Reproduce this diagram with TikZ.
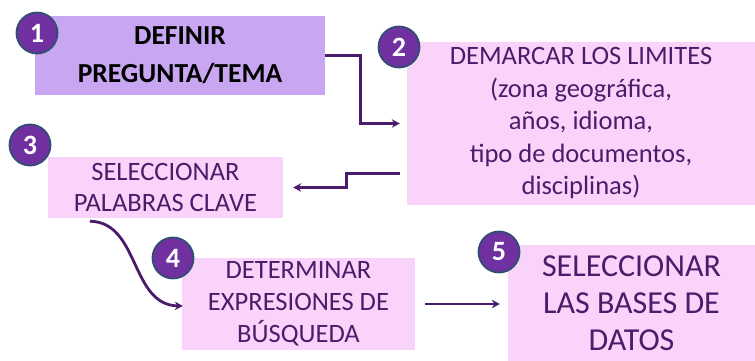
\documentclass[tikz,border=0pt]{standalone}
\usepackage{fontspec}
\setmainfont{Carlito}
\usetikzlibrary{arrows.meta,calc}
\definecolor{lav}{HTML}{C8A6F1}
\definecolor{pinkbox}{HTML}{FAD3FA}
\definecolor{txtpurple}{HTML}{4A1D6A}
\definecolor{connc}{HTML}{4B1B6B}
\definecolor{circfill}{HTML}{7030A0}
\definecolor{circedge}{HTML}{2F4E72}
\tikzset{
  box/.style={rectangle, inner sep=0pt, align=center, text=txtpurple, fill=pinkbox},
  numc/.style={circle, fill=circfill, draw=circedge, line width=1.8pt, minimum size=41pt, inner sep=0pt,
    text=white, font=\bfseries\fontsize{28}{28}\selectfont},
  conn/.style={draw=connc, line width=2.8pt, -{Stealth[length=8pt,width=8.5pt]}},
}
\begin{document}
\begin{tikzpicture}[x=1pt,y=-1pt]
\useasboundingbox (0,0) rectangle (755,361);
\node[box, fill=lav, text=black, minimum width=290pt, minimum height=79pt,
  font=\bfseries\fontsize{27.5}{38}\selectfont] (b1) at (180,55.5) {DEFINIR\\PREGUNTA/TEMA};
\node[box, minimum width=348pt, minimum height=163pt,
  font=\fontsize{26.5}{32.5}\selectfont] (b2) at (581,123.5)
  {DEMARCAR LOS LIMITES\\(zona geográfica,\\años, idioma,\\tipo de documentos,\\disciplinas)};
\node[box, minimum width=235pt, minimum height=61pt,
  font=\fontsize{26.5}{31}\selectfont] (b3) at (165.5,187.5) {SELECCIONAR\\PALABRAS CLAVE};
\node[box, minimum width=233pt, minimum height=92pt,
  font=\fontsize{26.5}{32}\selectfont] (b4) at (298.5,304) {DETERMINAR\\EXPRESIONES DE\\BÚSQUEDA};
\node[box, minimum width=247pt, minimum height=116pt,
  font=\fontsize{32}{37}\selectfont] (b5) at (631.5,303) {SELECCIONAR\\LAS BASES DE\\DATOS};

\node[numc] (n1) at (37,33) {1};
\node[numc] (n2) at (399,47) {2};
\node[numc] (n3) at (30,145) {3};
\node[numc] (n4) at (173,258) {4};
\node[numc] (n5) at (499,252) {5};

\draw[conn] (b1.east) -- ++(35,0) |- ([xshift=-7pt]b2.west);
\draw[conn] ([xshift=-7pt,yshift=32pt]b2.south west) -- ++(-53,0) |- ([xshift=10pt]b3.east);
\draw[conn] ([xshift=42pt,yshift=-3pt]b3.south west) .. controls (140,222) and (130,305) .. ([xshift=1pt,yshift=-2pt]b4.west);
\draw[conn] ([xshift=10pt]b4.east) -- ([xshift=-8pt]b5.west |- b4.east);
\end{tikzpicture}
\end{document}
